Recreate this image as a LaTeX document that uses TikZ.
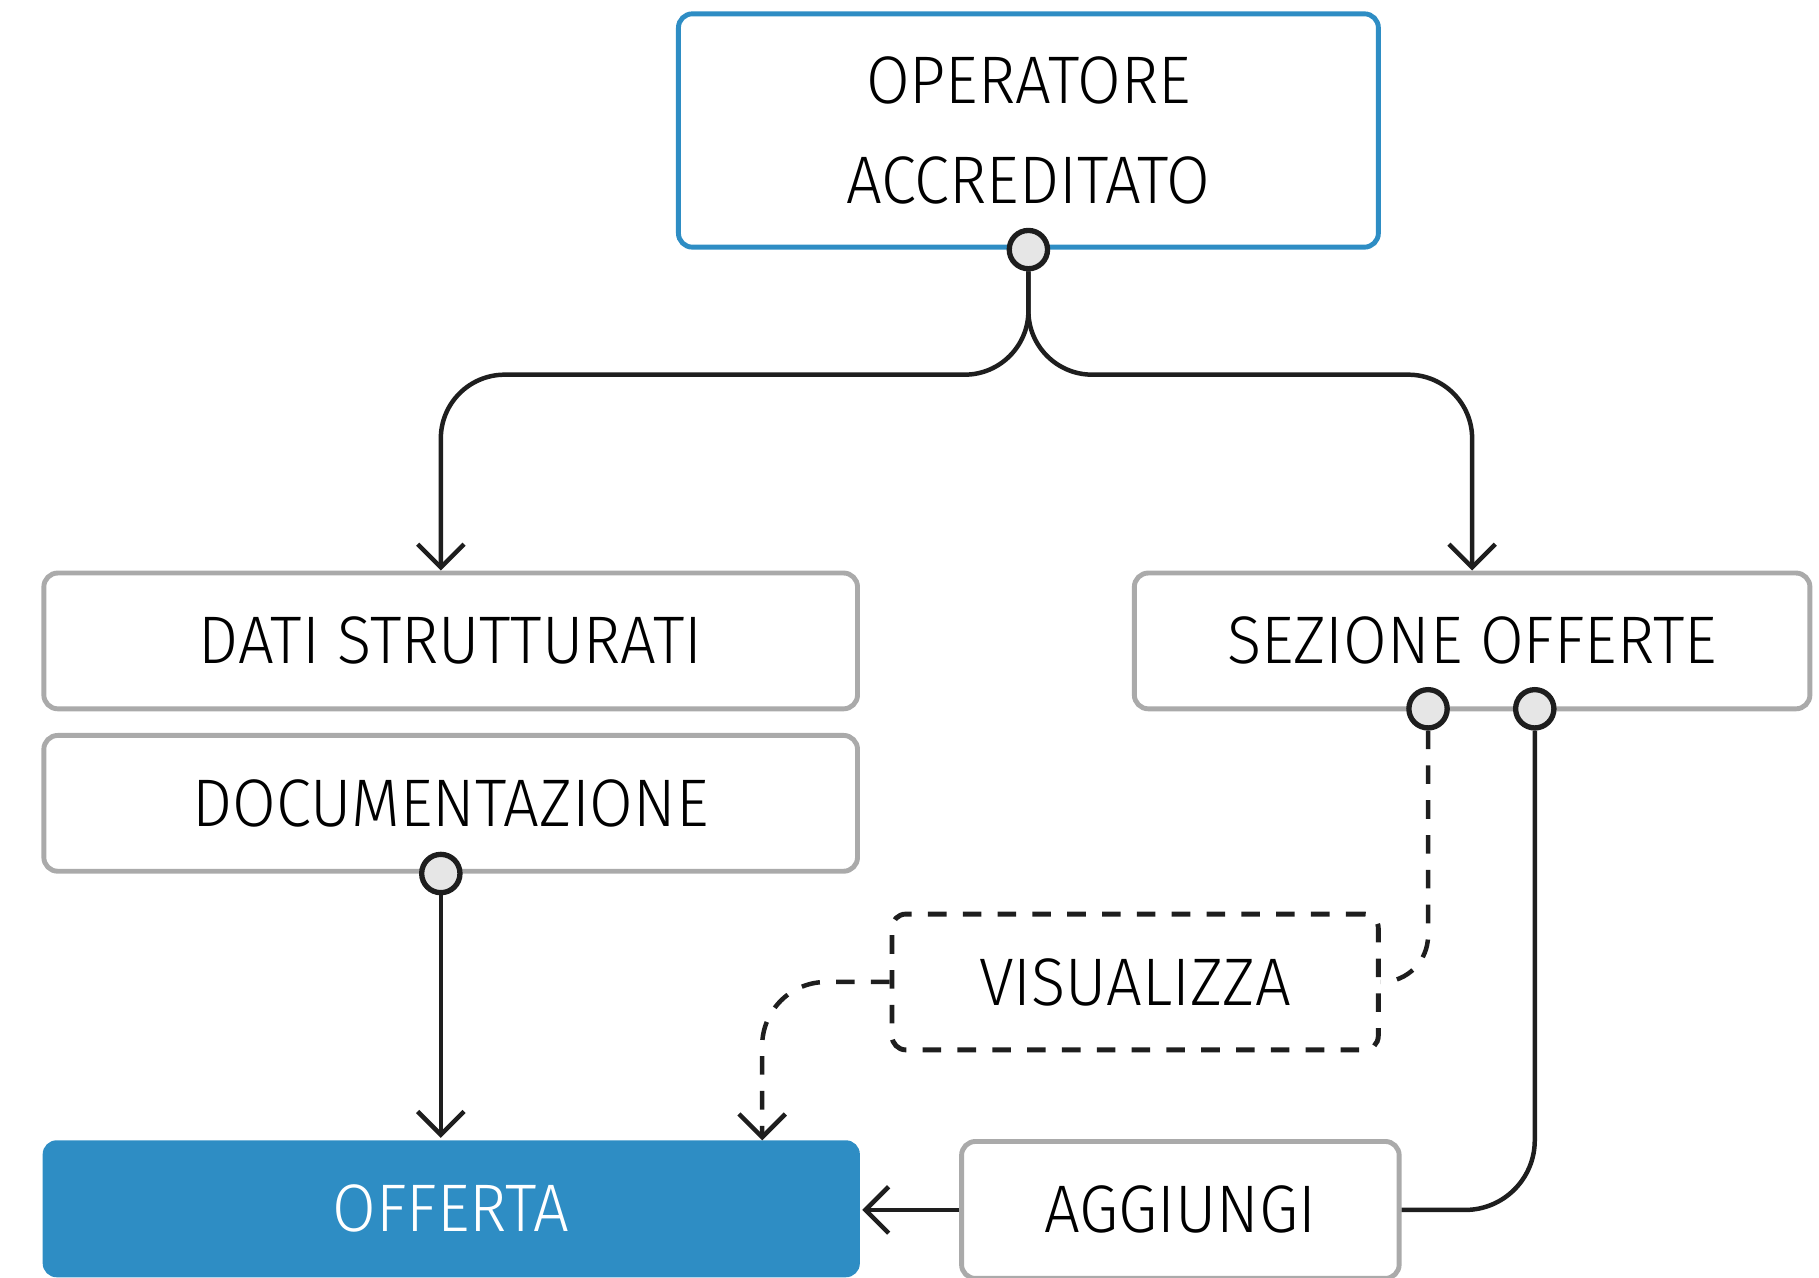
\documentclass[tikz,border=0pt]{standalone}
\usepackage{fontspec}
\setmainfont[FakeStretch=0.94]{Fira Sans Light}
\usetikzlibrary{arrows.meta,positioning}
\definecolor{azz}{RGB}{46,141,196}
\definecolor{grigio}{RGB}{170,170,170}
\definecolor{scuro}{RGB}{30,30,30}
\definecolor{pallino}{RGB}{230,230,230}
\begin{document}
\begin{tikzpicture}
  [x=0.01cm,y=-0.01cm,
   every node/.style={rectangle,rounded corners=0.12cm,line width=1.2pt,
     font=\fontsize{16.5}{20}\selectfont,text=black,inner sep=0pt},
   box/.style={draw=grigio,fill=white,minimum height=1.17cm},
   dot/.style={circle,draw=scuro,fill=pallino,line width=1.3pt,minimum size=0.33cm},
   link/.style={scuro,line width=1.1pt,rounded corners=0.55cm},
   tip/.style={-{Straight Barb[length=0.2cm,width=0.4cm]}},
   trattino/.style={dash pattern=on 0.16cm off 0.14cm}]
\useasboundingbox (0,0) rectangle (1568,1101);

\node (op)[draw=azz,minimum width=6.03cm,minimum height=2.01cm,align=center] at (886.5,112.5) {OPERATORE\\[0.16cm]ACCREDITATO};
  \node (dati)[box,minimum width=7.01cm] at (388.5,552.5) {DATI STRUTTURATI};
  \node (doc)[box,minimum width=7.01cm] at (388.5,692.5) {DOCUMENTAZIONE};
  \node (sez)[box,minimum width=5.82cm] at (1269,552.5) {SEZIONE OFFERTE};
  \node (vis)[draw=scuro,trattino,minimum width=4.19cm,minimum height=1.17cm] at (978.5,846.5) {VISUALIZZA};
  \node (off)[fill=azz,text=white,minimum width=7.04cm,minimum height=1.18cm] at (389,1042) {OFFERTA};
  \node (agg)[box,minimum width=3.77cm,minimum height=1.18cm] at (1017.5,1043) {AGGIUNGI};

  \node (d0)[dot] at (op.south) {};
  \node (d1)[dot] at (380,753) {};
  \node (d2)[dot] at (1231,611) {};
  \node (d3)[dot] at (1323,611) {};
  \coordinate (t1) at (657,983);

 \draw[link,tip] (d0) -- (d0 |- 0,323) -| (d1 |- dati.north);
 \draw[link,tip] (d0) -- (d0 |- 0,323) -| (sez.north);
 \draw[link,tip] (d1) -- (d1 |- off.north);
 \draw[link,trattino,rounded corners=0.4cm] (d2) |- (vis.east);
 \draw[link,tip,trattino] (vis.west) -| (t1);
 \draw[link,rounded corners=0.6cm] (d3) |- (agg.east);
 \draw[link,tip] (agg.west) -- (agg.west -| off.east);

\end{tikzpicture}
\end{document}
